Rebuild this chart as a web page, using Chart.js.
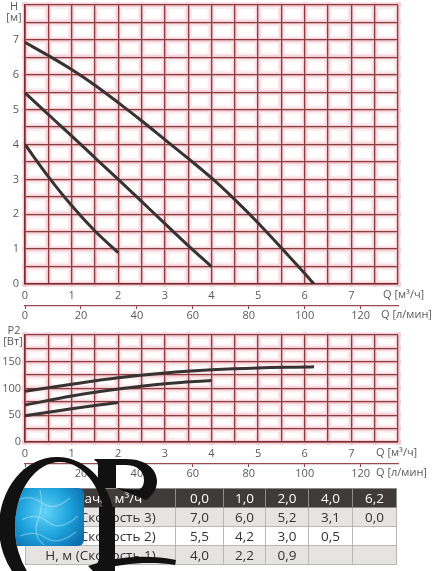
<!DOCTYPE html>
<html>
<head>
<meta charset="utf-8">
<script src="https://cdn.jsdelivr.net/npm/chart.js@4.4.0/dist/chart.umd.min.js"></script>
<style>
  html, body { margin: 0; padding: 0; background: #fff; }
  body { width: 434px; height: 571px; position: relative; overflow: hidden; font-family: "Open Sans", sans-serif; }
  #headChart { position: absolute; left: 0; top: 0; }
  #powerChart { position: absolute; left: 0; top: 325px; }
  #pumpTable { position: absolute; left: 25px; top: 488px; border-collapse: collapse; font-size: 13.5px; color: #333; table-layout: fixed; }
  #pumpTable td { height: 18px; line-height: 18px; padding: 0; text-align: center; border: 1px solid #b9b6b6; }
  #pumpTable tr.hdr td { background: #3e3b3a; color: #fff; border-color: #8d8a8a; }
  #pumpTable tr.odd td { background: #e6e3e3; }
  #pumpTable tr.even td { background: #fff; }
  #logo { position: absolute; left: 0; top: 0; pointer-events: none; }
</style>
</head>
<body>
<canvas id="headChart" width="434" height="328"></canvas>
<canvas id="powerChart" width="434" height="161"></canvas>
<table id="pumpTable"></table>
<svg id="logo" width="434" height="571" viewBox="0 0 434 571">
  <defs>
    <radialGradient id="water" cx="45" cy="512" r="45" gradientUnits="userSpaceOnUse">
      <stop offset="0" stop-color="#63d4f8"/>
      <stop offset="0.55" stop-color="#1ea3dc"/>
      <stop offset="1" stop-color="#0c6fb0"/>
    </radialGradient>
    <clipPath id="bowl">
      <ellipse cx="60" cy="527" rx="45" ry="65"/>
    </clipPath>
  </defs>
  <g clip-path="url(#bowl)">
    <rect x="0" y="488" width="84" height="58" rx="6" fill="url(#water)"/>
    <path d="M18 500 Q30 494 42 503 T70 498 M22 520 Q36 512 48 522 T78 516 M20 536 Q34 530 46 538 T76 532 M40 490 Q44 505 38 520 T44 545"
          stroke="rgba(255,255,255,0.35)" stroke-width="1.2" fill="none"/>
  </g>
  <path fill="#111" fill-rule="evenodd"
        d="M-1 527 A58 70 0 1 0 115 527 A58 70 0 1 0 -1 527 Z M15 527 A45 65 0 1 0 105 527 A45 65 0 1 0 15 527 Z"/>
  <path fill="#111" d="M88 566 C120 555 150 555 176 560 L175 565 C150 561 120 563 94 572 Z"/>
  <path fill="#111" fill-rule="evenodd"
        d="M95 459 L126 459 C147 459 157 470 157 481 C157 490 152 496 146 500 L116 488 L98 488 L98 466 C98 463 97 461 94 460 Z
           M116 465 L125 465 C137 465 144 471 144 480 C144 486 141 489 138 490 L116 488 Z"/>
  <rect x="99" y="507" width="16" height="64" fill="#111"/>
</svg>
<script>
// head curves H [м] against Q [м³/ч]
var flowSpeed3 = [0, 0.5, 1, 1.5, 2, 2.5, 3, 3.5, 4, 4.5, 5, 5.5, 6, 6.2];
var headSpeed3 = [6.93, 6.55, 6.15, 5.7, 5.2, 4.68, 4.14, 3.6, 3.04, 2.42, 1.75, 1.03, 0.3, 0];
var flowSpeed2 = [0, 0.5, 1, 1.5, 2, 2.5, 3, 3.5, 4];
var headSpeed2 = [5.48, 4.86, 4.25, 3.62, 3.0, 2.37, 1.73, 1.1, 0.5];
var flowSpeed1 = [0, 0.5, 1, 1.5, 2];
var headSpeed1 = [4.0, 3.08, 2.25, 1.52, 0.9];

// power curves P2 [Вт]
var powerFlow3 = [0, 1, 2, 3, 4, 5, 6, 6.2];
var powerSpeed3 = [95, 108, 120, 129, 135, 138.5, 140, 140.5];
var powerFlow2 = [0, 1, 2, 3, 4];
var powerSpeed2 = [69, 86, 99, 109, 115];
var powerFlow1 = [0, 1, 2];
var powerSpeed1 = [49, 62, 74];

// table under the charts
var tableHeader = "Подача, м³/ч";
var tableRowNames = ["Н, м (Скорость 3)", "Н, м (Скорость 2)", "Н, м (Скорость 1)"];
var tableFlow = [0.0, 1.0, 2.0, 4.0, 6.2];
var tableHead3 = [7.0, 6.0, 5.2, 3.1, 0.0];
var tableHead2 = [5.5, 4.2, 3.0, 0.5, null];
var tableHead1 = [4.0, 2.2, 0.9, null, null];

var flowMax = 8;              // м³/ч
var litresMax = flowMax * 1000 / 60; // same range in л/мин

var gridColor = "#8c3d41";
var tickColor = "#5a5a5a";
var tickFont = { family: "Open Sans", size: 11 };

function toPoints(xs, ys) {
	var pts = [];
	for (var i = 0; i < xs.length; i++) {
		pts.push({ x: xs[i], y: ys[i] });
	}
	return pts;
}

function curve(xs, ys) {
	return {
		data: toPoints(xs, ys),
		borderColor: "#383333",
		borderWidth: 3,
		pointRadius: 0,
		fill: false,
		tension: 0.35,
		xAxisID: "x",
		yAxisID: "y"
	};
}

//pink halo round the grid lines, like the scanned paper
var gridGlow = {
	id: "gridGlow",
	beforeDraw: function (chart) {
		var ctx = chart.ctx, area = chart.chartArea;
		var xs = chart.scales.x, ys = chart.scales.y;
		ctx.save();
		ctx.beginPath();
		ctx.rect(area.left - 3, area.top - 3, area.width + 6, area.height + 6);
		ctx.clip();
		ctx.beginPath();
		xs.ticks.forEach(function (t) {
			var px = xs.getPixelForValue(t.value);
			ctx.moveTo(px, area.top - 3);
			ctx.lineTo(px, area.bottom + 3);
		});
		ys.ticks.forEach(function (t) {
			var py = ys.getPixelForValue(t.value);
			ctx.moveTo(area.left - 3, py);
			ctx.lineTo(area.right + 3, py);
		});
		ctx.strokeStyle = "rgba(238,170,182,0.22)";
		ctx.lineWidth = 8;
		ctx.stroke();
		ctx.strokeStyle = "rgba(225,140,155,0.30)";
		ctx.lineWidth = 4;
		ctx.stroke();
		ctx.restore();
	}
};

//axis names drawn as plain text next to the chart area
function axisNames(labels) {
	return {
		id: "axisNames",
		afterDraw: function (chart) {
			var ctx = chart.ctx;
			ctx.save();
			ctx.fillStyle = tickColor;
			ctx.font = "11px 'Open Sans'";
			ctx.textBaseline = "middle";
			labels.forEach(function (l) {
				ctx.textAlign = l.align;
				ctx.fillText(l.text, l.x, l.y);
			});
			ctx.restore();
		}
	};
}

function buildOptions(yMax, yStep, yLabelEvery, yPad) {
	return {
		responsive: false,
		animation: false,
		layout: { padding: { top: 0, left: 0, right: 36, bottom: 0 } },
		plugins: { legend: { display: false }, tooltip: { enabled: false } },
		scales: {
			x: {
				type: "linear", position: "bottom", min: 0, max: flowMax, weight: 0,
				grid: { color: gridColor, lineWidth: 1.3, drawTicks: false },
				border: { color: "#7a2c30", width: 1.6 },
				ticks: {
					stepSize: 0.5, autoSkip: false, maxRotation: 0, padding: 5,
					color: tickColor, font: tickFont,
					callback: function (v) { return (v % 1 === 0 && v < flowMax) ? String(v) : ""; }
				},
				afterFit: function (s) { s.height = 22; s.paddingLeft = 0; s.paddingRight = 0; }
			},
			x2: {
				type: "linear", position: "bottom", min: 0, max: litresMax, weight: 1,
				grid: { drawOnChartArea: false, color: gridColor, lineWidth: 1, tickLength: 3 },
				border: { color: "#9a4a4e", width: 1.2 },
				ticks: {
					stepSize: 20, includeBounds: false, autoSkip: false, maxRotation: 0, padding: 0,
					color: tickColor, font: tickFont
				},
				afterFit: function (s) { s.height = 22; s.paddingLeft = 0; s.paddingRight = 0; }
			},
			y: {
				type: "linear", position: "left", min: 0, max: yMax,
				grid: { color: gridColor, lineWidth: 1.3, drawTicks: false },
				border: { color: "#7a2c30", width: 1.6 },
				ticks: {
					stepSize: yStep, autoSkip: false, padding: yPad,
					color: tickColor, font: tickFont,
					callback: function (v) { return (v % yLabelEvery === 0 && v < yMax) ? String(v) : ""; }
				},
				afterFit: function (s) { s.width = 25; s.paddingTop = 0; s.paddingBottom = 0; }
			}
		}
	};
}

var headOptions = buildOptions(8, 0.5, 1, 6);
headOptions.layout.padding.top = 5;
var headChart = new Chart(document.getElementById("headChart"), {
	type: "line",
	data: {
		datasets: [
			curve(flowSpeed3, headSpeed3),
			curve(flowSpeed2, headSpeed2),
			curve(flowSpeed1, headSpeed1)
		]
	},
	options: headOptions,
	plugins: [gridGlow, axisNames([
		{ text: "H", x: 14, y: 7, align: "center" },
		{ text: "[м]", x: 14, y: 18, align: "center" },
		{ text: "Q [м³/ч]", x: 383, y: 295, align: "left" },
		{ text: "Q [л/мин]", x: 381, y: 315, align: "left" }
	])]
});

var powerOptions = buildOptions(200, 25, 50, 4);
powerOptions.layout.padding.top = 10;
var powerChart = new Chart(document.getElementById("powerChart"), {
	type: "line",
	data: {
		datasets: [
			curve(powerFlow3, powerSpeed3),
			curve(powerFlow2, powerSpeed2),
			curve(powerFlow1, powerSpeed1)
		]
	},
	options: powerOptions,
	plugins: [gridGlow, axisNames([
		{ text: "P2", x: 14, y: 6, align: "center" },
		{ text: "[Вт]", x: 13, y: 17, align: "center" },
		{ text: "Q [м³/ч]", x: 376, y: 128, align: "left" },
		{ text: "Q [л/мин]", x: 376, y: 148, align: "left" }
	])]
});

//filling the table
function fmt(v) {
	return (v === null) ? "" : v.toFixed(1).replace(".", ",");
}
var colWidths = [150, 48, 42, 43, 44, 44];
var tbl = document.getElementById("pumpTable");
var colgroup = document.createElement("colgroup");
colWidths.forEach(function (w) {
	var c = document.createElement("col");
	c.style.width = w + "px";
	colgroup.appendChild(c);
});
tbl.appendChild(colgroup);
function addRow(cls, name, values) {
	var tr = document.createElement("tr");
	tr.className = cls;
	var td = document.createElement("td");
	td.textContent = name;
	tr.appendChild(td);
	values.forEach(function (v) {
		var cell = document.createElement("td");
		cell.textContent = fmt(v);
		tr.appendChild(cell);
	});
	tbl.appendChild(tr);
}
addRow("hdr", tableHeader, tableFlow);
addRow("odd", tableRowNames[0], tableHead3);
addRow("even", tableRowNames[1], tableHead2);
addRow("odd", tableRowNames[2], tableHead1);
</script>
</body>
</html>
